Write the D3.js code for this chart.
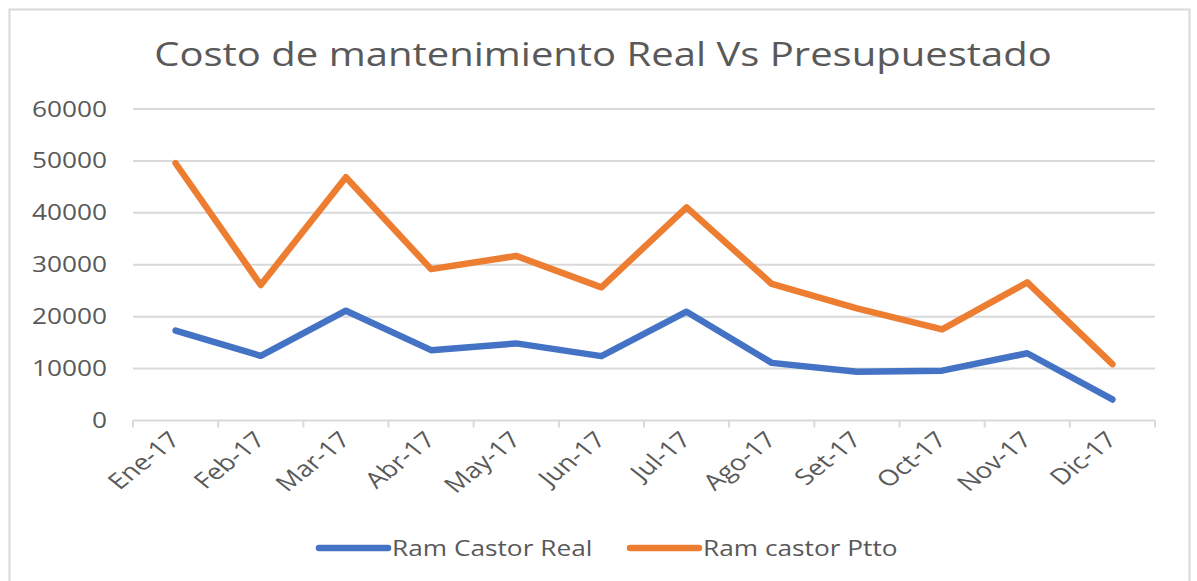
<!DOCTYPE html>
<html>
<head>
<meta charset="utf-8">
<script src="https://cdn.jsdelivr.net/npm/d3@7"></script>
<style>
  body { margin: 0; background: #fff; }
  svg text { font-family: "Open Sans", sans-serif; fill: #595959; }
</style>
</head>
<body>
<svg id="chart" width="1197" height="581"></svg>
<script>
// data
const months = ['Ene-17', 'Feb-17', 'Mar-17', 'Abr-17', 'May-17', 'Jun-17',
                'Jul-17', 'Ago-17', 'Set-17', 'Oct-17', 'Nov-17', 'Dic-17']
const realValues = [17300, 12450, 21150, 13550, 14850, 12400, 20950, 11100, 9400, 9600, 12950, 4050]
const pttoValues = [49550, 26100, 46850, 29150, 31700, 25650, 41050, 26300, 21600, 17550, 26600, 10850]
const yTicks = [0, 10000, 20000, 30000, 40000, 50000, 60000]
const seriesNames = ['Ram Castor Real', 'Ram castor Ptto']
const seriesColors = ['#4472C4', '#ED7D31']

const svg = d3.select('#chart')
const sx = 1.25   // the reference text is stretched sideways

// outer chart border
svg.append('rect')
    .attr('x', 9.5).attr('y', 9.5)
    .attr('width', 1180).attr('height', 600)
    .attr('fill', 'none')
    .attr('stroke', '#d9d9d9')
    .attr('stroke-width', 2)

const plot = { left: 133, right: 1155, top: 109, bottom: 420.5 }

const x = d3.scaleBand()
    .domain(months)
    .range([plot.left, plot.right])

const y = d3.scaleLinear()
    .domain([0, 60000])
    .range([plot.bottom, plot.top])

// title
svg.append('text')
    .attr('transform', `translate(603, 66) scale(${sx},1)`)
    .attr('text-anchor', 'middle')
    .attr('font-size', 32)
    .text('Costo de mantenimiento Real Vs Presupuestado')

// gridlines
svg.append('g')
    .selectAll('line')
    .data(yTicks.filter(d => d > 0))
    .join('line')
        .attr('x1', plot.left).attr('x2', plot.right)
        .attr('y1', d => y(d)).attr('y2', d => y(d))
        .attr('stroke', '#d9d9d9')
        .attr('stroke-width', 2)

// y labels
svg.append('g')
    .selectAll('text')
    .data(yTicks)
    .join('text')
        .attr('transform', d => `translate(107, ${y(d) + 7.5}) scale(${sx},1)`)
        .attr('text-anchor', 'end')
        .attr('font-size', 21)
        .text(d => d)

// x axis line + ticks
const gx = svg.append('g')
gx.append('line')
    .attr('x1', plot.left).attr('x2', plot.right)
    .attr('y1', plot.bottom).attr('y2', plot.bottom)
    .attr('stroke', '#d9d9d9').attr('stroke-width', 2)

const bounds = months.map(m => x(m)).concat([plot.right])
gx.selectAll('line.tick')
    .data(bounds)
    .join('line')
        .attr('class', 'tick')
        .attr('x1', d => d).attr('x2', d => d)
        .attr('y1', plot.bottom).attr('y2', plot.bottom + 7)
        .attr('stroke', '#d9d9d9').attr('stroke-width', 2)

// x labels, rotated
gx.selectAll('text')
    .data(months)
    .join('text')
        .attr('transform', d => `translate(${x(d) + x.bandwidth() / 2 + 6}, 441) scale(${sx},1) rotate(-45)`)
        .attr('text-anchor', 'end')
        .attr('font-size', 22)
        .text(d => d)

// lines
const line = d3.line()
    .x((d, i) => x(months[i]) + x.bandwidth() / 2)
    .y(d => y(d))

const series = [realValues, pttoValues]
svg.append('g')
    .attr('fill', 'none')
    .attr('stroke-linecap', 'round')
    .attr('stroke-linejoin', 'round')
    .selectAll('path')
    .data(series)
    .join('path')
        .attr('d', d => line(d))
        .attr('stroke', (d, i) => seriesColors[i])
        .attr('stroke-width', 6.5)

// legend
const legendX = [319, 630]
const legend = svg.append('g')
    .selectAll('g')
    .data(seriesNames)
    .join('g')
        .attr('transform', (d, i) => `translate(${legendX[i]}, 548)`)

legend.append('line')
    .attr('x1', 0).attr('x2', 69)
    .attr('y1', 0).attr('y2', 0)
    .attr('stroke', (d, i) => seriesColors[i])
    .attr('stroke-width', 6.5)
    .attr('stroke-linecap', 'round')

legend.append('text')
    .attr('transform', `translate(73, 7.5) scale(${sx},1)`)
    .attr('font-size', 21)
    .text(d => d)
</script>
</body>
</html>
